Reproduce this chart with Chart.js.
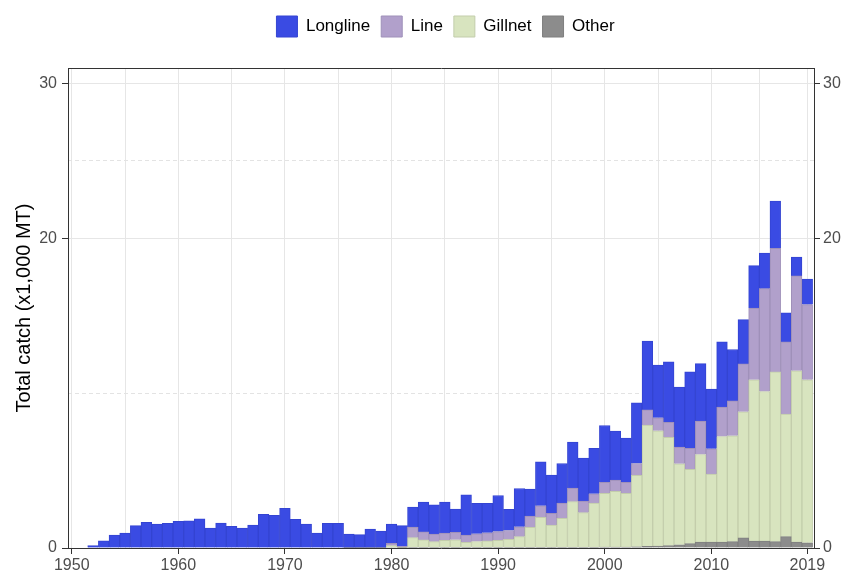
<!DOCTYPE html>
<html>
<head>
<meta charset="utf-8">
<script src="https://cdn.jsdelivr.net/npm/chart.js@4/dist/chart.umd.min.js"></script>
<style>
html,body{margin:0;padding:0;background:#ffffff;}
#wrap{width:843px;height:572px;position:relative;}
</style>
</head>
<body>
<div id="wrap"><canvas id="c" width="843" height="572"></canvas></div>
<script>
// ---- categories ----
const years = [
  1950,1951,1952,1953,1954,1955,1956,1957,1958,1959,
  1960,1961,1962,1963,1964,1965,1966,1967,1968,1969,
  1970,1971,1972,1973,1974,1975,1976,1977,1978,1979,
  1980,1981,1982,1983,1984,1985,1986,1987,1988,1989,
  1990,1991,1992,1993,1994,1995,1996,1997,1998,1999,
  2000,2001,2002,2003,2004,2005,2006,2007,2008,2009,
  2010,2011,2012,2013,2014,2015,2016,2017,2018,2019
];

// ---- series values (x1,000 MT) ----
const longline = [
  0, 0, 0.15, 0.47, 0.84, 0.97, 1.44, 1.66, 1.55, 1.59,
  1.72, 1.76, 1.89, 1.29, 1.61, 1.40, 1.29, 1.48, 2.17, 2.11,
  2.56, 1.85, 1.55, 0.97, 1.59, 1.59, 0.88, 0.84, 1.20, 1.08,
  1.25, 1.34, 1.30, 1.93, 1.88, 2.00, 1.50, 2.60, 1.97, 1.91,
  2.33, 1.36, 2.47, 1.75, 2.84, 2.47, 2.56, 2.97, 2.78, 2.93,
  3.67, 3.16, 2.86, 3.92, 4.45, 3.41, 3.91, 3.88, 4.94, 3.72,
  3.85, 4.21, 3.32, 2.86, 2.74, 2.30, 3.05, 1.87, 1.22, 1.65
];
const line = [
  0, 0, 0, 0, 0, 0, 0, 0, 0, 0,
  0, 0, 0, 0, 0, 0, 0, 0, 0, 0,
  0, 0, 0, 0, 0, 0, 0, 0, 0, 0,
  0.15, 0.05, 0.68, 0.52, 0.49, 0.48, 0.49, 0.46, 0.50, 0.52,
  0.56, 0.57, 0.64, 0.72, 0.75, 0.76, 0.99, 0.88, 0.75, 0.60,
  0.71, 0.73, 0.71, 0.77, 0.98, 0.84, 0.97, 1.08, 1.35, 2.15,
  1.64, 1.90, 2.25, 3.09, 4.64, 6.64, 7.98, 4.66, 6.13, 4.86
];
const gillnet = [
  0, 0, 0, 0, 0, 0, 0, 0, 0, 0,
  0, 0, 0, 0, 0, 0, 0, 0, 0, 0,
  0, 0, 0, 0, 0, 0, 0, 0, 0, 0,
  0.12, 0.03, 0.62, 0.47, 0.36, 0.44, 0.48, 0.32, 0.37, 0.41,
  0.45, 0.51, 0.68, 1.29, 1.93, 1.43, 1.86, 2.94, 2.23, 2.85,
  3.47, 3.60, 3.47, 4.61, 7.84, 7.44, 6.99, 5.23, 4.80, 5.65,
  4.38, 6.81, 6.84, 8.15, 10.41, 9.66, 10.96, 7.92, 11.05, 10.52
];
const other = [
  0, 0, 0, 0, 0, 0, 0, 0, 0, 0,
  0, 0, 0, 0, 0, 0, 0, 0, 0, 0,
  0, 0, 0, 0, 0, 0, 0.02, 0.02, 0.02, 0.02,
  0.03, 0.02, 0.05, 0.05, 0.05, 0.05, 0.05, 0.05, 0.05, 0.05,
  0.05, 0.05, 0.05, 0.05, 0.05, 0.05, 0.05, 0.05, 0.05, 0.05,
  0.06, 0.06, 0.06, 0.08, 0.10, 0.13, 0.15, 0.21, 0.28, 0.39,
  0.39, 0.39, 0.41, 0.65, 0.45, 0.45, 0.41, 0.73, 0.39, 0.34
];

// ---- tick values ----
const xLabelTicks = [1950, 1960, 1970, 1980, 1990, 2000, 2010, 2019];
const xMinorTicks = [1955, 1965, 1975, 1985, 1995, 2005, 2014.5];
const yLabelTicks = [0, 20, 30];
const yMinorTicks = [10, 25];

const FONT = "'Liberation Sans', Arial, Helvetica, sans-serif";
const X_MIN = 1949.65, X_MAX = 2019.63, Y_MIN = 0, Y_MAX = 31;

function points(vals) { return years.map((yr, i) => ({ x: yr, y: vals[i] })); }
const xAll = xLabelTicks.concat(xMinorTicks).sort((a, b) => a - b);

const legendLayout = {
  id: 'legendLayout',
  beforeInit(chart) {
    const lg = chart.legend;
    const origFit = lg.fit;
    lg.fit = function () { origFit.call(this); this.height = 63; };
  },
  afterLayout(chart) {
    chart.legend.left = 48;
    chart.legend.right = 843;
  }
};

new Chart(document.getElementById('c'), {
  type: 'bar',
  data: {
    datasets: [
      { label: 'Other',    data: points(other),    backgroundColor: '#8c8c8c', borderColor: '#7f7f7f', borderWidth: 1, xAxisID: 'x', yAxisID: 'y' },
      { label: 'Gillnet',  data: points(gillnet),  backgroundColor: '#d8e4bf', borderColor: '#c3cdab', borderWidth: 1, xAxisID: 'x', yAxisID: 'y' },
      { label: 'Line',     data: points(line),     backgroundColor: '#b1a0cb', borderColor: '#9f90b9', borderWidth: 1, xAxisID: 'x', yAxisID: 'y' },
      { label: 'Longline', data: points(longline), backgroundColor: '#3a4be3', borderColor: '#3444d2', borderWidth: 1, xAxisID: 'x', yAxisID: 'y' }
    ]
  },
  options: {
    responsive: false,
    animation: false,
    events: [],
    devicePixelRatio: 1,
    barPercentage: 1,
    categoryPercentage: 1,
    layout: { padding: { left: 8, right: 0, top: 5, bottom: 0 } },
    plugins: {
      tooltip: { enabled: false },
      legend: {
        display: true,
        position: 'top',
        reverse: true,
        labels: {
          boxWidth: 21, boxHeight: 21, padding: 11,
          color: '#000000',
          font: { family: FONT, size: 17 }
        }
      }
    },
    scales: {
      x: {
        type: 'linear', position: 'bottom', stacked: true, offset: false,
        min: X_MIN, max: X_MAX,
        afterBuildTicks(s) { s.ticks = xAll.map(v => ({ value: v })); },
        afterFit(s) { s.height = 24; },
        ticks: {
          autoSkip: false, maxRotation: 0, minRotation: 0, padding: 2,
          color: '#4d4d4d', font: { family: FONT, size: 16 },
          callback: (v) => xLabelTicks.includes(v) ? String(v) : ''
        },
        grid: {
          offset: false,
          color: '#e6e6e6', lineWidth: 1, tickLength: 6,
          tickColor: (ctx) => (ctx.tick && xLabelTicks.includes(ctx.tick.value)) ? '#333333' : 'rgba(0,0,0,0)'
        },
        border: { display: true, color: '#333333', width: 1, z: 1 }
      },
      x2: {
        type: 'linear', position: 'top', offset: false,
        min: X_MIN, max: X_MAX,
        afterFit(s) { s.height = 0; },
        ticks: { display: false },
        grid: { offset: false, drawOnChartArea: false, drawTicks: false },
        border: { display: true, color: '#333333', width: 1, z: 1 }
      },
      y: {
        type: 'linear', position: 'left', stacked: true,
        min: Y_MIN, max: Y_MAX,
        afterBuildTicks(s) { s.ticks = yLabelTicks.map(v => ({ value: v })); },
        afterFit(s) { s.width = 60; },
        ticks: { padding: 5, color: '#4d4d4d', font: { family: FONT, size: 16 } },
        grid: { color: '#e6e6e6', lineWidth: 1, tickLength: 6, tickColor: '#333333' },
        border: { display: true, color: '#333333', width: 1, z: 1 },
        title: {
          display: true, text: 'Total catch (x1,000 MT)', color: '#000000',
          font: { family: FONT, size: 20 }, padding: { top: 4, bottom: 4 }
        }
      },
      y3: {
        type: 'linear', position: 'left',
        min: Y_MIN, max: Y_MAX,
        afterBuildTicks(s) { s.ticks = yMinorTicks.map(v => ({ value: v })); },
        afterFit(s) { s.width = 0; },
        ticks: { display: false },
        grid: { color: '#e3e3e3', lineWidth: 1, drawTicks: false },
        border: { display: false, dash: [4, 3] }
      },
      y2: {
        type: 'linear', position: 'right',
        min: Y_MIN, max: Y_MAX,
        afterBuildTicks(s) { s.ticks = yLabelTicks.map(v => ({ value: v })); },
        afterFit(s) { s.width = 29; },
        ticks: { padding: 3, color: '#4d4d4d', font: { family: FONT, size: 16 } },
        grid: { drawOnChartArea: false, tickLength: 6, tickColor: '#333333' },
        border: { display: true, color: '#333333', width: 1, z: 1 }
      }
    }
  },
  plugins: [legendLayout]
});
</script>
</body>
</html>
